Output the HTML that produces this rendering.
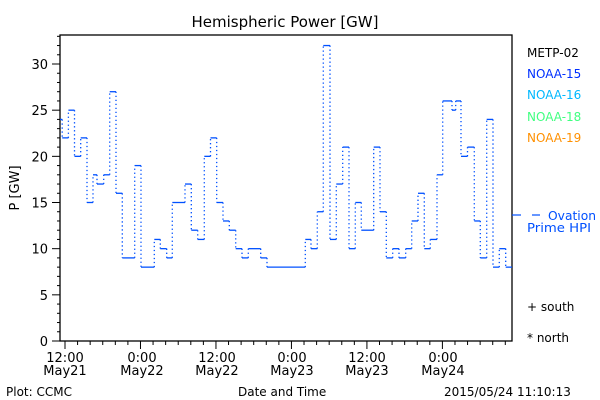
<!DOCTYPE html>
<html><head><meta charset="utf-8"><style>
body{margin:0;background:#fff;}
svg{display:block;font-family:"DejaVu Sans","Liberation Sans",sans-serif;}
</style></head><body>
<svg id="s" width="600" height="400" viewBox="0 0 600 400" xmlns="http://www.w3.org/2000/svg">
<rect width="600" height="400" fill="#fff"/>
<text x="285" y="27" font-size="15" text-anchor="middle">Hemispheric Power [GW]</text>
<rect x="60" y="35" width="452" height="306" fill="none" stroke="#000" stroke-width="1.3"/>
<g id="ax" stroke="#000" stroke-width="1"></g>
<g font-size="13" text-anchor="end" id="yl"></g>
<text transform="translate(19,188) rotate(-90)" font-size="13" text-anchor="middle">P [GW]</text>
<g font-size="13" text-anchor="middle">
<text x="65" y="362">12:00</text><text x="65" y="375">May21</text>
<text x="142" y="362">0:00</text><text x="142" y="375">May22</text>
<text x="217" y="362">12:00</text><text x="217" y="375">May22</text>
<text x="292" y="362">0:00</text><text x="292" y="375">May23</text>
<text x="367" y="362">12:00</text><text x="367" y="375">May23</text>
<text x="443" y="362">0:00</text><text x="443" y="375">May24</text>
</g>
<g font-size="12">
<text x="6" y="396">Plot: CCMC</text>
<text x="238" y="396">Date and Time</text>
<text x="444" y="396">2015/05/24 11:10:13</text>
<text x="527" y="57">METP-02</text>
<text x="527" y="78" fill="#0030ff">NOAA-15</text>
<text x="527" y="99" fill="#00b8ff">NOAA-16</text>
<text x="527" y="121" fill="#40ff80">NOAA-18</text>
<text x="527" y="142" fill="#ff9000">NOAA-19</text>
<line x1="532" y1="215" x2="540" y2="215" stroke="#0050ff" stroke-width="1.2"/>
<text x="548" y="220" fill="#0050ff" textLength="48" lengthAdjust="spacingAndGlyphs">Ovation</text>
<text x="527" y="232" fill="#0050ff" textLength="64" lengthAdjust="spacingAndGlyphs">Prime HPI</text>
<text x="527" y="311">+ south</text>
<text x="527" y="342">* north</text>
</g>
<line x1="512" y1="215" x2="521" y2="215" stroke="#0050ff" stroke-width="1.2"/>
<g id="d" stroke="#0050ff" stroke-width="1.3" fill="none"></g>
</svg>
<script>
var NS="http://www.w3.org/2000/svg";
function el(p,t,a){var e=document.createElementNS(NS,t);for(var k in a)e.setAttribute(k,a[k]);p.appendChild(e);return e;}
var Y=function(v){return 341-v*9.233;};
var ax=document.getElementById('ax'),yl=document.getElementById('yl');
for(var v=0;v<=33;v++){var y=Y(v);var L=v%5==0?8:3;el(ax,'line',{x1:60-L,y1:y,x2:60,y2:y});
if(v%5==0){var t=el(yl,'text',{x:48,y:y+5});t.textContent=v;}}
for(var h=-1;h<=71;h++){var x=65+h*6.29;if(x<60||x>512.5)continue;var m=(h%12==0);
if(h%2==0||m)el(ax,'line',{x1:x,y1:341,x2:x,y2:341+(m?8:4)});}
var P=[[60,24],[62.2,22],[68.4,25],[74.5,20],[80.7,22],[87,15],[93,18],[97,17],[103.7,18],[109.7,27],[116,16],[122.3,9],[134.7,19],[141,8],[154.3,11],[160.3,10],[166.7,9],[172.3,15],[185,17],[191.3,12],[197.7,11],[204.3,20],[210.5,22],[216.7,15],[223,13],[229.3,12],[235.7,10],[242,9],[248.3,10],[260.7,9],[267,8],[305.3,11],[311,10],[317.3,14],[323.3,32],[330,11],[336.3,17],[342.7,21],[349,10],[355.3,15],[361.3,12],[373.7,21],[380,14],[386.3,9],[392.7,10],[399,9],[405.7,10],[411.7,13],[418,16],[424.3,10],[430.3,11],[437,18],[442.7,26],[452,25],[455.7,26],[461,20],[467.5,21],[474.3,13],[480.3,9],[486.7,24],[493,8],[499.3,10],[505.7,8],[512,8]];
var d=document.getElementById('d');
for(var i=0;i<P.length-1;i++){var a=P[i][0],b=P[i+1][0],v=P[i][1];
el(d,'line',{x1:a,y1:Y(v),x2:b,y2:Y(v)});
if(i>0)el(d,'line',{x1:a,y1:Y(P[i-1][1]),x2:a,y2:Y(v),'stroke-dasharray':'1.3 2.7'});}
</script>
</body></html>
